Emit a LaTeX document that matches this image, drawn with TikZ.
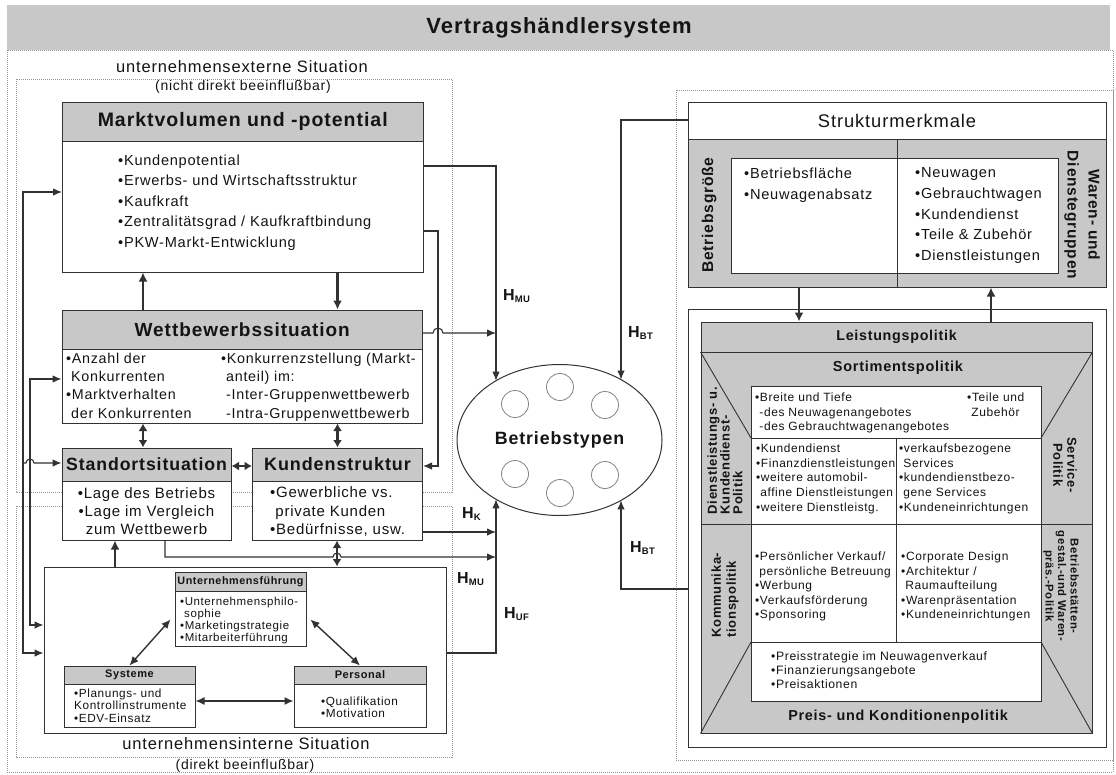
\documentclass[tikz,border=0pt]{standalone}
\usepackage{fontspec}
\setmainfont{Liberation Sans}[LetterSpace=5]
\usetikzlibrary{arrows.meta,shapes.geometric,calc}
\definecolor{hatch}{RGB}{200,200,200}
\definecolor{ink}{RGB}{50,50,50}
\definecolor{txtc}{RGB}{20,20,20}
\definecolor{dotc}{RGB}{150,150,150}
\definecolor{circc}{RGB}{130,130,130}
\newcommand\fsz[2]{\fontsize{#1}{#2}\selectfont}
\newcommand\Hsub[1]{H\raisebox{-2.5pt}{\fsz{9.5}{10}#1}}
\begin{document}
\begin{tikzpicture}[x=1pt,y=-1pt,
  box/.style={draw=ink,line width=1pt,fill=white,inner sep=0pt},
  hbox/.style={draw=ink,line width=1pt,fill=hatch,inner sep=0pt},
  lst/.style={inner sep=0pt,anchor=north west,align=left,text=txtc},
  lbl/.style={inner sep=0pt,text=txtc},
  ln/.style={draw=ink,line width=0.9pt},
  ar/.style={draw=ink,line width=1.1pt,-{Latex[length=9pt,width=7.5pt]}},
  arb/.style={draw=ink,line width=1.1pt,{Latex[length=9pt,width=7.5pt]}-{Latex[length=9pt,width=7.5pt]}},
  tar/.style={draw=ink,line width=2.3pt,-{Latex[length=9pt,width=9pt]}},
  dbl/.style={draw=ink,line width=2.3pt,{Latex[length=7.5pt,width=9pt]}-{Latex[length=7.5pt,width=9pt]}},
  mdbl/.style={draw=ink,line width=1.4pt,{Latex[length=9pt,width=8pt]}-{Latex[length=9pt,width=8pt]}},
  frm/.style={draw=dotc,line width=0.8pt,dash pattern=on 1pt off 1pt},
  circ/.style={circle,draw=circc,line width=0.8pt,minimum size=27pt,inner sep=0pt},
]
\useasboundingbox (0,0) rectangle (1116,774);
\fill[white] (0,0) rectangle (1116,774);
% title
\fill[hatch] (7,5) rectangle (1110,50);
\node[lbl,font=\fsz{22}{24}\bfseries] (title) at (559,28) {Vertragshändlersystem};
% frames
\draw[frm] (7,50) rectangle (1113,772);
\draw[frm] (16,79) rectangle (452,492);
\draw[frm] (16,506) rectangle (452,757);
\draw[frm] (676,90) rectangle (1113,760);
\node[lbl,font=\fsz{16.5}{18}] (ext1) at (242,67) {unternehmensexterne Situation};
\node[lbl,font=\fsz{14}{16}] (ext2) at (243,87) {(nicht direkt beeinflußbar)};
\node[lbl,font=\fsz{16.5}{18}] (int1) at (246,744) {unternehmensinterne Situation};
\node[lbl,font=\fsz{14}{16}] (int2) at (245,766) {(direkt beeinflußbar)};

% Marktvolumen
\node[box,minimum width=360.5,minimum height=170] (mv) at (242.75,187) {};
\node[hbox,minimum width=360.5,minimum height=39] (mvh) at (242.75,121.5) {};
\node[lbl,font=\fsz{19.5}{22}\bfseries] (mvt) at (mvh.center) {Marktvolumen und -potential};
\node[lst,font=\fsz{14.6}{20.5}] (mvl) at (118,154.5) {•Kundenpotential\\•Erwerbs- und Wirtschaftsstruktur\\•Kaufkraft\\•Zentralitätsgrad / Kaufkraftbindung\\•PKW-Markt-Entwicklung};

% Wettbewerb
\node[box,minimum width=360.5,minimum height=113] (wb) at (242.25,366.5) {};
\node[hbox,minimum width=360.5,minimum height=39] (wbh) at (242.25,329.5) {};
\node[lbl,font=\fsz{19}{22}\bfseries] (wbt) at (wbh.center) {Wettbewerbssituation};
\node[lst,font=\fsz{14.3}{18.3}] (wbl) at (66,352.7) {•Anzahl der\\\phantom{•}Konkurrenten\\•Marktverhalten\\\phantom{•}der Konkurrenten};
\node[lst,font=\fsz{14.3}{18.3}] (wbr) at (221,352.7) {•Konkurrenzstellung (Markt-\\\phantom{•}anteil) im:\\\phantom{•}-Inter-Gruppenwettbewerb\\\phantom{•}-Intra-Gruppenwettbewerb};

% Standort
\node[box,minimum width=169,minimum height=92] (st) at (146.5,494) {};
\node[hbox,minimum width=169,minimum height=33] (sth) at (146.5,464.5) {};
\node[lbl,font=\fsz{17.7}{20}\bfseries] (stt) at (sth.center) {Standortsituation};
\node[lst,anchor=north,align=center,font=\fsz{15}{18}] (stl) at (146.5,487.5) {•Lage des Betriebs\\•Lage im Vergleich\\zum Wettbewerb};

% Kunden
\node[box,minimum width=170,minimum height=92] (ku) at (337.5,494) {};
\node[hbox,minimum width=170,minimum height=33] (kuh) at (337.5,464.5) {};
\node[lbl,font=\fsz{18}{20}\bfseries] (kut) at (kuh.center) {Kundenstruktur};
\node[lst,font=\fsz{15}{18.5}] (kul) at (270,486.5) {•Gewerbliche vs.\\\phantom{•}private Kunden\\•Bedürfnisse, usw.};

% internal
\node[box,minimum width=402,minimum height=166] (in) at (245,650) {};
\node[box,minimum width=131,minimum height=74] (uf) at (240.5,609) {};
\node[hbox,minimum width=131,minimum height=19] (ufh) at (240.5,581.5) {};
\node[lbl,font=\fsz{10.8}{12}\bfseries] (uft) at (ufh.center) {Unternehmensführung};
\node[lst,font=\fsz{11.5}{12.2}] (ufl) at (180,596.7) {•Unternehmensphilo-\\\phantom{•}sophie\\•Marketingstrategie\\•Mitarbeiterführung};
\node[box,minimum width=131,minimum height=61] (sy) at (129.5,696.5) {};
\node[hbox,minimum width=131,minimum height=18] (syh) at (129.5,675) {};
\node[lbl,font=\fsz{11}{12}\bfseries] (syt) at (syh.center) {Systeme};
\node[lst,font=\fsz{11.8}{12.6}] (syl) at (74,688.6) {•Planungs- und\\Kontrollinstrumente\\•EDV-Einsatz};
\node[box,minimum width=132,minimum height=61] (pe) at (360,696.5) {};
\node[hbox,minimum width=132,minimum height=18] (peh) at (360,675) {};
\node[lbl,font=\fsz{11}{12}\bfseries] (pet) at (peh.center) {Personal};
\node[lst,font=\fsz{11.8}{12.5}] (pel) at (321,696.6) {•Qualifikation\\•Motivation};

\draw[mdbl] (sy.north) -- ([xshift=-4pt,yshift=27pt]uf.south west);
\draw[mdbl] ([xshift=4pt,yshift=27pt]uf.south east) -- (pe.north);
\draw[mdbl] (sy.east |- 0,701) -- (pe.west |- 0,701);

% ellipse
\node[ellipse,draw=ink,line width=1pt,minimum width=205,minimum height=151,inner sep=0pt,font=\fsz{17.8}{20}\bfseries,text=txtc] (ell) at (559.5,440) {Betriebstypen};
\node[circ] (c1) at (515,404) {};
\node[circ] (c2) at (560,387) {};
\node[circ] (c3) at (605,405) {};
\node[circ] (c4) at (515,474) {};
\node[circ] (c5) at (560,493) {};
\node[circ] (c6) at (605,475) {};
\coordinate (ellA) at ($(ell.center)+(-63.5,-59.3)$);
\coordinate (ellB) at ($(ell.center)+(-63.5,59.3)$);
\coordinate (ellC) at ($(ell.center)+(61.5,-60.4)$);
\coordinate (ellD) at ($(ell.center)+(61.5,60.4)$);

% left connectors
\draw[ar] (mv.east |- 0,166) -- (496,166) -- (ellA);
\draw[ar] (mv.east |- 0,231) -- (438,231) -- (438,466) -- (ku.east |- 0,466);
\draw[ar] (wb.east |- 0,333) -- (433,333) arc[start angle=180,end angle=360,radius=5] -- (496,333);
\draw[arb] (mv.west |- 0,192) -- (23,192) -- (23,653) -- (in.west |- 0,653);
\draw[arb] (wb.west |- 0,379) -- (30,379) -- (30,625) -- (in.west |- 0,625);
\draw[ar] (23,463) -- (26,463) arc[start angle=180,end angle=360,radius=4] -- (st.west |- 0,463);
\draw[tar] (wb.north -| 143,0) -- (mv.south -| 143,0);
\draw[tar] (mv.south -| 337.5,0) -- (wb.north -| 337.5,0);
\draw[dbl] (wb.south -| 143,0) -- (st.north -| 143,0);
\draw[dbl] (wb.south -| 337.5,0) -- (ku.north -| 337.5,0);
\draw[dbl] (st.east |- 0,466) -- (ku.west |- 0,466);
\draw[ar] (ku.east |- 0,532) -- (496,532);
\draw[ar] (st.south -| 165,0) -- (165,557) -- (333,557) arc[start angle=180,end angle=360,radius=4] -- (496,557);
\draw[dbl] (ku.south -| 337,0) -- (in.north -| 337,0);
\draw[tar] (in.north -| 115,0) -- (st.south -| 115,0);
\draw[ar] (in.east |- 0,653) -- (496,653) -- (ellB);

% H labels
\node[lbl,anchor=base west,font=\fsz{16}{18}\bfseries] (hmu1) at (503,300) {\Hsub{MU}};
\node[lbl,anchor=base west,font=\fsz{16}{18}\bfseries] (hbt1) at (628,337) {\Hsub{BT}};
\node[lbl,anchor=base west,font=\fsz{16}{18}\bfseries] (hk) at (462,518) {\Hsub{K}};
\node[lbl,anchor=base west,font=\fsz{16}{18}\bfseries] (hmu2) at (457,583) {\Hsub{MU}};
\node[lbl,anchor=base west,font=\fsz{16}{18}\bfseries] (hbt2) at (630,552) {\Hsub{BT}};
\node[lbl,anchor=base west,font=\fsz{16}{18}\bfseries] (huf) at (504,618) {\Hsub{UF}};

% Strukturmerkmale
\node[box,minimum width=418,minimum height=185] (sm) at (897,194.5) {};
\node[hbox,minimum width=418,minimum height=148] (smg) at (897,213) {};
\node[box,minimum width=327,minimum height=115] (smw) at (894.5,215.5) {};
\draw[ln] (smg.north -| 897,0) -- (smg.south -| 897,0);
\node[lbl,font=\fsz{18.3}{20}] (smt) at (897,120.5) {Strukturmerkmale};
\node[lst,font=\fsz{14.6}{20.7}] (sml) at (744,167.6) {•Betriebsfläche\\•Neuwagenabsatz};
\node[lst,font=\fsz{14.6}{20.7}] (smr) at (915,167.6) {•Neuwagen\\•Gebrauchtwagen\\•Kundendienst\\•Teile \& Zubehör\\•Dienstleistungen};
\node[lbl,rotate=90,font=\fsz{15.6}{18}\bfseries] (bg) at (709,215) {Betriebsgröße};
\node[lbl,rotate=-90,align=center,font=\fsz{15.5}{21}\bfseries] (wd) at (1082,215) {Waren- und\\Dienstegruppen};

% Leistungspolitik
\node[box,minimum width=418,minimum height=438] (lp) at (897,528) {};
\node[hbox,minimum width=391,minimum height=411] (lpg) at (896.5,527.5) {};
\draw[ln] (lpg.west |- 0,352) -- (lpg.east |- 0,352);
\draw[ln] (lpg.west |- 0,352) -- (751,438);
\draw[ln] (lpg.east |- 0,352) -- (1041,438);
\draw[ln] (751,642) -- (lpg.south west);
\draw[ln] (1041,642) -- (lpg.south east);
\node[box,minimum width=290,minimum height=315] (wr) at (896,543.5) {};
\draw[ln] (wr.west |- 0,438) -- (wr.east |- 0,438);
\draw[ln] (wr.west |- 0,642) -- (wr.east |- 0,642);
\draw[ln] (lpg.west |- 0,524) -- (lpg.east |- 0,524);
\draw[ln] (896,438) -- (896,642);
\node[lbl,font=\fsz{14.3}{16}\bfseries] (lpt) at (896.5,337) {Leistungspolitik};
\node[lbl,font=\fsz{14.5}{16}\bfseries] (sot) at (898,368) {Sortimentspolitik};
\node[lbl,font=\fsz{14.4}{16}\bfseries] (prt) at (898,717) {Preis- und Konditionenpolitik};
\node[lst,font=\fsz{12}{14.5}] (so1) at (755,392.6) {•Breite und Tiefe\\\phantom{•}-des Neuwagenangebotes\\\phantom{•}-des Gebrauchtwagenangebotes};
\node[lst,font=\fsz{12}{14.5}] (so2) at (967,392.6) {•Teile und\\\phantom{•}Zubehör};
\node[lst,font=\fsz{11.9}{14.7}] (g1) at (756,443.6) {•Kundendienst\\•Finanzdienstleistungen\\•weitere automobil-\\\phantom{•}affine Dienstleistungen\\•weitere Dienstleistg.};
\node[lst,font=\fsz{12}{14.7}] (g2) at (899,443.6) {•verkaufsbezogene\\\phantom{•}Services\\•kundendienstbezo-\\\phantom{•}gene Services\\•Kundeneinrichtungen};
\node[lst,font=\fsz{12}{14.5}] (g3) at (755,551.6) {•Persönlicher Verkauf/\\\phantom{•}persönliche Betreuung\\•Werbung\\•Verkaufsförderung\\•Sponsoring};
\node[lst,font=\fsz{12}{14.5}] (g4) at (901,551.6) {•Corporate Design\\•Architektur /\\\phantom{•}Raumaufteilung\\•Warenpräsentation\\•Kundeneinrichtungen};
\node[lst,font=\fsz{12.2}{14}] (pr) at (771,651.5) {•Preisstrategie im Neuwagenverkauf\\•Finanzierungsangebote\\•Preisaktionen};
\node[lbl,rotate=90,align=left,font=\fsz{13}{12.8}\bfseries] (dkp) at (725,450.5) {Dienstleistungs- u.\\Kundendienst-\\Politik};
\node[lbl,rotate=90,align=left,font=\fsz{13}{15}\bfseries] (kom) at (725,595) {Kommunika-\\tionspolitik};
\node[lbl,rotate=-90,align=center,font=\fsz{13}{14}\bfseries] (svc) at (1065,465) {Service-\\Politik};
\node[lbl,rotate=-90,align=center,font=\fsz{11.3}{12.5}\bfseries] (bsp) at (1061,586) {Betriebsstätten-\\gestal.-und Waren-\\präs.-Politik};

% right connectors
\draw[tar] (sm.south -| 799,0) -- (lpg.north -| 799,0);
\draw[tar] (lpg.north -| 991,0) -- (sm.south -| 991,0);
\draw[ar] (sm.west |- 0,120) -- (621,120) -- (ellC);
\draw[ar] (lp.west |- 0,589) -- (621,589) -- (ellD);
\end{tikzpicture}
\end{document}
